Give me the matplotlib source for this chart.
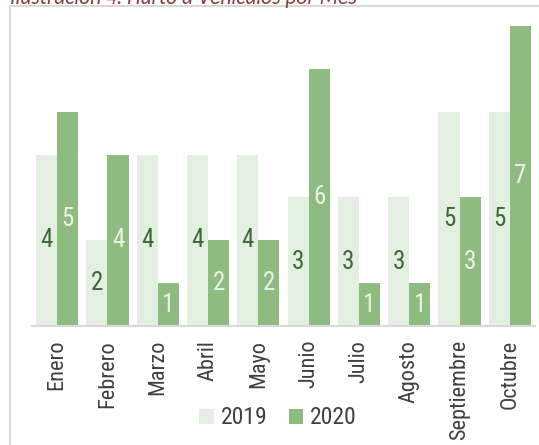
import matplotlib.pyplot as plt
import numpy as np
from matplotlib.patches import Rectangle

# Datos
meses = ['Enero', 'Febrero', 'Marzo', 'Abril', 'Mayo', 'Junio', 'Julio',
         'Agosto', 'Septiembre', 'Octubre']
valores2019 = [4, 2, 4, 4, 4, 3, 3, 3, 5, 5]
valores2020 = [5, 4, 1, 2, 2, 6, 1, 1, 3, 7]

plt.rcParams['font.family'] = ['Roboto Condensed', 'Liberation Sans', 'DejaVu Sans']

fig = plt.figure(figsize=(5.39, 4.45), dpi=100)

# marco gris del grafico
fig.patches.append(Rectangle((10 / 539, -0.05), 1.1, 1 - 6 / 445 + 0.05,
                             transform=fig.transFigure, fill=False,
                             edgecolor='#D9D9D9', linewidth=1.5))

fig.text(10 / 539, 1 - 4.5 / 445, 'Ilustración 4. Hurto a Vehículos por Mes',
         family=['Carlito', 'Liberation Sans'], style='italic', fontsize=15.5,
         color='#8B3A3A', va='baseline', ha='left')

ax = fig.add_axes([32 / 539, 1 - 326 / 445, 503 / 539, 300 / 445])

x = np.arange(len(meses))
width = 0.42

b1 = ax.bar(x - width / 2, valores2019, width, color='#E3EFE1', label='2019')
b2 = ax.bar(x + width / 2, valores2020, width, color='#8DBB80', label='2020')

ax.bar_label(b1, label_type='center', fontsize=18, color='#3A6A34')
ax.bar_label(b2, label_type='center', fontsize=18, color='#EAF3E8')

ax.set_xlim(-0.5, len(meses) - 0.5)
ax.set_ylim(0, 7)
ax.set_xticks(x)
ax.set_xticklabels(meses, rotation=90, fontsize=16, color='#404040')
ax.tick_params(axis='x', length=0, pad=10)
ax.set_yticks([])

for s in ['top', 'right', 'left']:
    ax.spines[s].set_visible(False)
ax.spines['bottom'].set_color('#D9D9D9')
ax.spines['bottom'].set_linewidth(1.5)
ax.patch.set_alpha(0)

fig.legend(loc='center', bbox_to_anchor=(278 / 539, 1 - 418 / 445), ncol=2,
           frameon=False, fontsize=17, handlelength=0.6, handleheight=0.6,
           handletextpad=0.3, columnspacing=0.9, labelcolor='#404040')

plt.savefig('out.png', dpi=100)
plt.close()
